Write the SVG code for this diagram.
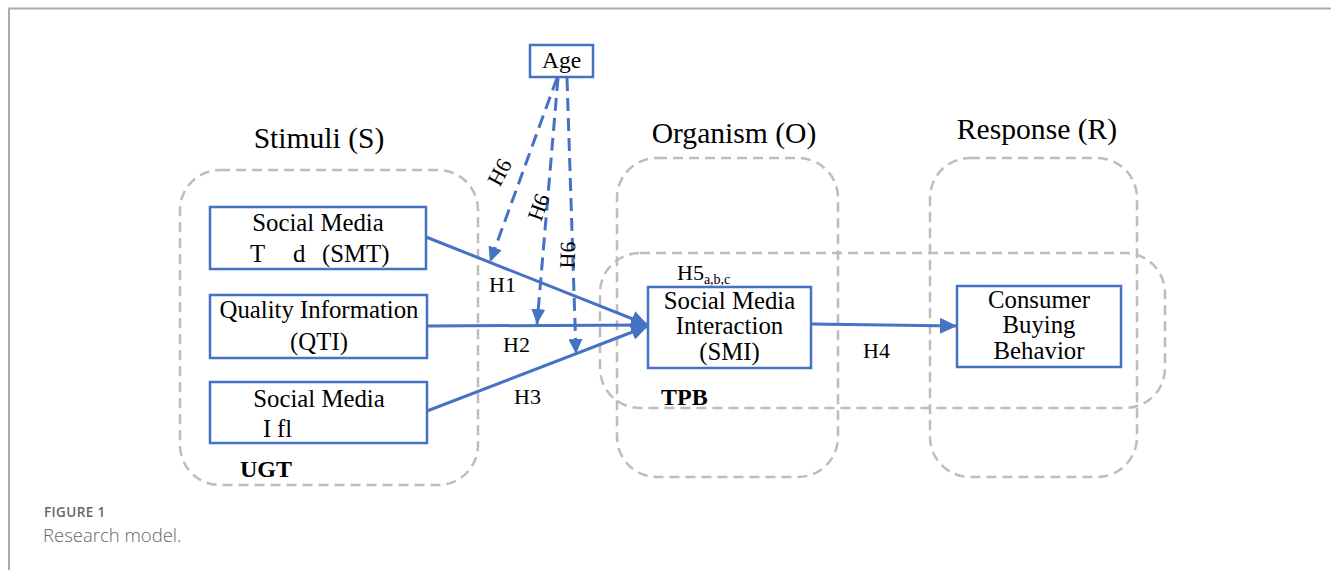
<svg xmlns="http://www.w3.org/2000/svg" width="1331" height="570" viewBox="0 0 1331 570">
<style>
.frame{fill:none;stroke:#ababab;stroke-width:2}
.grp{fill:none;stroke:#bdbdbd;stroke-width:2.5;stroke-dasharray:10 6}
.node{fill:#fff;stroke:#4472c4;stroke-width:2.5}
.t{font-family:"Liberation Serif","Times New Roman",serif;fill:#000}
.lbl{font-size:24.8px}
.title{font-size:29.6px}
.h{font-size:22px}
.b{font-size:24px;font-weight:bold}
.solid{fill:none;stroke:#4472c4;stroke-width:3}
.dash{fill:none;stroke:#4472c4;stroke-width:3;stroke-dasharray:13 7}
.cap{font-family:"Open Sans","Liberation Sans",sans-serif;fill:#666}
</style>
<defs>
<marker id="ah" markerUnits="userSpaceOnUse" markerWidth="18" markerHeight="16" refX="17" refY="8" orient="auto">
<path d="M0,0 L17,8 L0,16 z" fill="#4472c4"/>
</marker>
<marker id="ahd" markerUnits="userSpaceOnUse" markerWidth="16" markerHeight="14" refX="15" refY="7" orient="auto">
<path d="M0,0 L15,7 L0,14 z" fill="#4472c4"/>
</marker>
</defs>
<rect width="1331" height="570" fill="#fff"/>
<path class="frame" d="M9,570 L9,8.5 L1331,8.5"/>

<g id="groups">
<rect class="grp" x="180" y="170" width="298" height="315" rx="40"/>
<rect class="grp" x="617" y="158" width="221" height="319" rx="40"/>
<rect class="grp" x="930" y="158" width="207" height="319" rx="40"/>
<rect class="grp" x="600" y="253" width="565" height="155" rx="40"/>
</g>

<g id="titles">
<text class="t title" x="319" y="148" text-anchor="middle">Stimuli (S)</text>
<text class="t title" x="734" y="143" text-anchor="middle">Organism (O)</text>
<text class="t title" x="1037" y="139" text-anchor="middle">Response (R)</text>
<text class="t b" x="240" y="477">UGT</text>
<text class="t b" x="661" y="405">TPB</text>
</g>

<g id="connectors">
<line class="solid" x1="426" y1="237" x2="648" y2="325" marker-end="url(#ah)"/>
<line class="solid" x1="427" y1="326" x2="648" y2="325" marker-end="url(#ah)"/>
<line class="solid" x1="427" y1="411" x2="648" y2="326" marker-end="url(#ah)"/>
<line class="solid" x1="811" y1="324" x2="957" y2="326" marker-end="url(#ah)"/>
<line class="dash" x1="557" y1="78" x2="490" y2="262" marker-end="url(#ahd)"/>
<line class="dash" x1="558" y1="78" x2="537" y2="324" marker-end="url(#ahd)"/>
<line class="dash" x1="567" y1="78" x2="576" y2="354" marker-end="url(#ahd)"/>
<text class="t h" x="489" y="292">H1</text>
<text class="t h" x="503" y="352">H2</text>
<text class="t h" x="514" y="404">H3</text>
<text class="t h" x="863" y="358">H4</text>
<text class="t h" x="677" y="280">H5<tspan font-size="14" dy="4">a,b,c</tspan></text>
<text class="t h" transform="translate(499,172) rotate(-62)" x="0" y="8" text-anchor="middle">H6</text>
<text class="t h" transform="translate(538,207) rotate(-70)" x="0" y="8" text-anchor="middle">H6</text>
<text class="t h" transform="translate(567,255) rotate(-88)" x="0" y="8" text-anchor="middle">H6</text>
</g>

<g id="age">
<rect class="node" x="530" y="45" width="63" height="32"/>
<text class="t" font-size="23.5" x="561.5" y="68" text-anchor="middle">Age</text>
</g>

<g id="smt">
<rect class="node" x="210" y="207" width="216" height="62"/>
<text class="t lbl" x="318" y="231" text-anchor="middle">Social Media</text>
<text class="t lbl" y="262"><tspan x="250">T</tspan><tspan x="293">d</tspan><tspan x="322">(SMT)</tspan></text>
</g>

<g id="qti">
<rect class="node" x="210" y="295" width="217" height="63"/>
<text class="t lbl" x="319" y="318" text-anchor="middle">Quality Information</text>
<text class="t lbl" x="319" y="350" text-anchor="middle">(QTI)</text>
</g>

<g id="smin">
<rect class="node" x="210" y="382" width="217" height="61"/>
<text class="t lbl" x="319" y="407" text-anchor="middle">Social Media</text>
<text class="t lbl" y="437"><tspan x="263">I</tspan><tspan x="277">fl</tspan></text>
</g>

<g id="smi">
<rect class="node" x="648" y="287" width="163" height="81"/>
<text class="t lbl" x="729.5" y="309" text-anchor="middle">Social Media</text>
<text class="t lbl" x="729.5" y="334" text-anchor="middle">Interaction</text>
<text class="t lbl" x="729.5" y="360" text-anchor="middle">(SMI)</text>
</g>

<g id="cbb">
<rect class="node" x="957" y="286" width="164" height="81"/>
<text class="t lbl" x="1039" y="308" text-anchor="middle">Consumer</text>
<text class="t lbl" x="1039" y="333" text-anchor="middle">Buying</text>
<text class="t lbl" x="1039" y="359" text-anchor="middle">Behavior</text>
</g>

<g id="caption">
<text class="cap" x="44" y="517" font-size="13.5" font-weight="600" letter-spacing="0.4">FIGURE 1</text>
<text class="cap" x="43" y="542" font-size="18.5" font-weight="300">Research model.</text>
</g>
</svg>
